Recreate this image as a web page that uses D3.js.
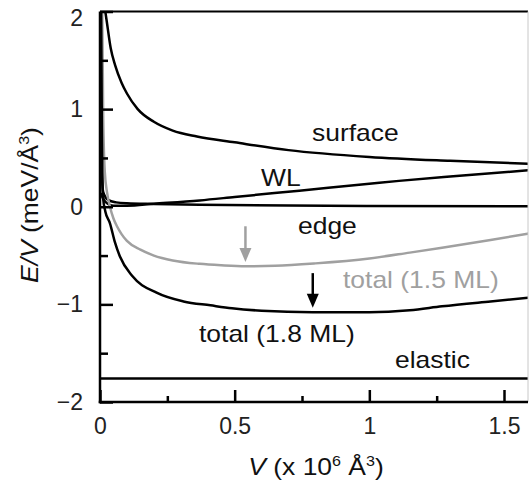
<!DOCTYPE html>
<html>
<head>
<meta charset="utf-8">
<script src="https://cdn.jsdelivr.net/npm/d3@7"></script>
<style>
  body { margin: 0; background: #fff; }
  text { font-family: "Liberation Sans", Arial, sans-serif; }
</style>
</head>
<body>
<div id="canvas"></div>
<script>
// values: V in 10^6 A^3, E/V in meV/A^3
var surfaceV = [0.017, 0.025, 0.04, 0.056, 0.08, 0.1, 0.14, 0.2, 0.27, 0.36, 0.5, 0.7, 1.0, 1.3, 1.6];
var surfaceE = [2.05, 1.9, 1.62, 1.45, 1.27, 1.16, 1.0, 0.87, 0.78, 0.72, 0.66, 0.58, 0.51, 0.47, 0.44];

var wlV = [0.002, 0.02, 0.05, 0.1, 0.2, 0.37, 0.5, 0.74, 1.0, 1.11, 1.3, 1.6];
var wlE = [0.14, 0.05, 0.01, 0.01, 0.03, 0.065, 0.1, 0.165, 0.235, 0.265, 0.31, 0.375];

var edgeV = [0.002, 0.006, 0.012, 0.03, 0.06, 0.1, 0.2, 0.37, 0.7, 1.0, 1.6];
var edgeE = [2.05, 0.4, 0.15, 0.07, 0.045, 0.035, 0.028, 0.02, 0.012, 0.008, 0.004];

var total15V = [0.008, 0.012, 0.018, 0.026, 0.037, 0.05, 0.063, 0.08, 0.1, 0.15, 0.2, 0.27, 0.37, 0.45, 0.54, 0.65, 0.8, 1.0, 1.15, 1.27, 1.45, 1.6];
var total15E = [2.05, 0.9, 0.35, 0.15, 0.0, -0.12, -0.2, -0.28, -0.35, -0.44, -0.5, -0.55, -0.585, -0.6, -0.61, -0.605, -0.58, -0.53, -0.47, -0.42, -0.34, -0.27];

var total18V = [0.004, 0.007, 0.011, 0.02, 0.037, 0.055, 0.074, 0.12, 0.21, 0.31, 0.41, 0.49, 0.6, 0.79, 1.0, 1.15, 1.27, 1.45, 1.6];
var total18E = [2.05, 0.8, 0.1, -0.05, -0.17, -0.36, -0.51, -0.71, -0.88, -0.97, -1.01, -1.04, -1.065, -1.08, -1.08, -1.06, -1.02, -0.97, -0.93];

var elasticV = [0, 1.6];
var elasticE = [-1.76, -1.76];

var yTicks = [-2, -1, 0, 1, 2];
var yMinor = [-1.5, -0.5, 0.5, 1.5];
var xTicks = [0, 0.5, 1, 1.5];
var xMinor = [0.25, 0.75, 1.25];

var width = 529, height = 484;
var fontSize = 23, stretch = 1.15;
var gray = "#a0a0a0";

var svg = d3.select("#canvas").append("svg").attr("width", width).attr("height", height);

var x = d3.scaleLinear().domain([0, 1.5]).range([100, 504]);
var y = d3.scaleLinear().domain([-2, 2]).range([402, 11.5]);
var xRight = 528;

svg.append("clipPath").attr("id", "plotClip")
    .append("rect")
    .attr("x", x(0)).attr("y", y(2))
    .attr("width", xRight - x(0)).attr("height", y(-2) - y(2));

function pairs(vs, es) {
    return vs.map(function(v, i) { return [v, es[i]]; });
}

var line = d3.line()
    .x(function(d) { return x(d[0]); })
    .y(function(d) { return y(d[1]); })
    .curve(d3.curveMonotoneX);

var series = [
    { pts: pairs(elasticV, elasticE), color: "black" },
    { pts: pairs(edgeV, edgeE), color: "black" },
    { pts: pairs(wlV, wlE), color: "black" },
    { pts: pairs(surfaceV, surfaceE), color: "black" },
    { pts: pairs(total15V, total15E), color: gray },
    { pts: pairs(total18V, total18E), color: "black" }
];

var plot = svg.append("g").attr("clip-path", "url(#plotClip)");
series.forEach(function(s) {
    plot.append("path")
        .attr("d", line(s.pts))
        .attr("fill", "none")
        .attr("stroke", s.color)
        .attr("stroke-width", 2.5);
});

// frame: top and right
svg.append("line").attr("x1", x(0)).attr("x2", xRight).attr("y1", y(2)).attr("y2", y(2))
    .attr("stroke", "black").attr("stroke-width", 2);
svg.append("line").attr("x1", xRight).attr("x2", xRight).attr("y1", y(2)).attr("y2", y(-2))
    .attr("stroke", "#c8c8c8").attr("stroke-width", 1);

// y axis
var yAxis = svg.append("g").attr("transform", "translate(" + x(0) + ",0)")
    .call(d3.axisLeft(y).tickValues(yTicks).tickSize(-13).tickPadding(17).tickFormat(d3.format("")));
svg.append("g").attr("transform", "translate(" + x(0) + ",0)")
    .call(d3.axisLeft(y).tickValues(yMinor).tickSize(-8).tickFormat(""))
    .select(".domain").remove();

// x axis
var xAxis = svg.append("g").attr("transform", "translate(0," + y(-2) + ")")
    .call(d3.axisBottom(x).tickValues(xTicks).tickSize(-12).tickPadding(16).tickFormat(d3.format("")));
svg.append("g").attr("transform", "translate(0," + y(-2) + ")")
    .call(d3.axisBottom(x).tickValues(xMinor).tickSize(-6).tickFormat(""))
    .select(".domain").remove();

svg.selectAll(".tick line").attr("stroke", "black").attr("stroke-width", 2.5);
yAxis.select(".domain").remove();
xAxis.select(".domain").remove();
svg.append("line").attr("x1", x(0)).attr("x2", x(0)).attr("y1", y(2)).attr("y2", y(-2) + 1.25)
    .attr("stroke", "black").attr("stroke-width", 2.5);
svg.append("line").attr("x1", x(0) - 1.25).attr("x2", xRight).attr("y1", y(-2)).attr("y2", y(-2))
    .attr("stroke", "black").attr("stroke-width", 2.5);

svg.selectAll(".tick text")
    .attr("font-family", "Liberation Sans, Arial, sans-serif")
    .attr("font-size", fontSize)
    .attr("fill", "#222");
// the top label sits a little below its tick in the picture
yAxis.selectAll(".tick text")
    .attr("transform", function(d) { return "translate(0," + (d === 2 ? 7 : 0) + ")"; });

// stretched text helper
function label(parent, txt, px, py, color, anchor) {
    return parent.append("text")
        .attr("transform", "translate(" + px + "," + py + ") scale(" + stretch + ",1)")
        .attr("font-size", fontSize)
        .attr("text-anchor", anchor || "start")
        .attr("fill", color || "#111")
        .text(txt);
}

label(svg, "surface", 312, 141);
label(svg, "WL", 261, 186);
label(svg, "edge", 298, 234);
label(svg, "total (1.5 ML)", 343, 288, gray);
label(svg, "total (1.8 ML)", 199, 342);
label(svg, "elastic", 395, 368);

// arrows at the minima
var arrows = [
    { v: 0.54, from: -0.2, to: -0.565, color: gray },
    { v: 0.79, from: -0.68, to: -1.035, color: "black" }
];
arrows.forEach(function(a) {
    var ax = x(a.v), y0 = y(a.from), y1 = y(a.to);
    svg.append("line").attr("x1", ax).attr("x2", ax).attr("y1", y0).attr("y2", y1 - 10)
        .attr("stroke", a.color).attr("stroke-width", 2.5);
    svg.append("path")
        .attr("d", "M" + (ax - 6) + "," + (y1 - 14) + "L" + (ax + 6) + "," + (y1 - 14) + "L" + ax + "," + y1 + "Z")
        .attr("fill", a.color);
});

// axis titles
var xt = svg.append("text")
    .attr("transform", "translate(316,475) scale(" + stretch + ",1)")
    .attr("text-anchor", "middle")
    .attr("font-size", fontSize)
    .attr("fill", "#111");
xt.append("tspan").attr("font-style", "italic").text("V");
xt.append("tspan").text(" (x 10");
xt.append("tspan").attr("font-size", 14).attr("dy", -9).text("6");
xt.append("tspan").attr("dy", 9).text(" Å");
xt.append("tspan").attr("font-size", 14).attr("dy", -9).text("3");
xt.append("tspan").attr("dy", 9).text(")");

var yt = svg.append("text")
    .attr("transform", "translate(38,205) rotate(-90) scale(" + stretch + ",1)")
    .attr("text-anchor", "middle")
    .attr("font-size", fontSize)
    .attr("fill", "#111");
yt.append("tspan").attr("font-style", "italic").text("E/V");
yt.append("tspan").text(" (meV/Å");
yt.append("tspan").attr("font-size", 14).attr("dy", -9).text("3");
yt.append("tspan").attr("dy", 9).text(")");
</script>
</body>
</html>
